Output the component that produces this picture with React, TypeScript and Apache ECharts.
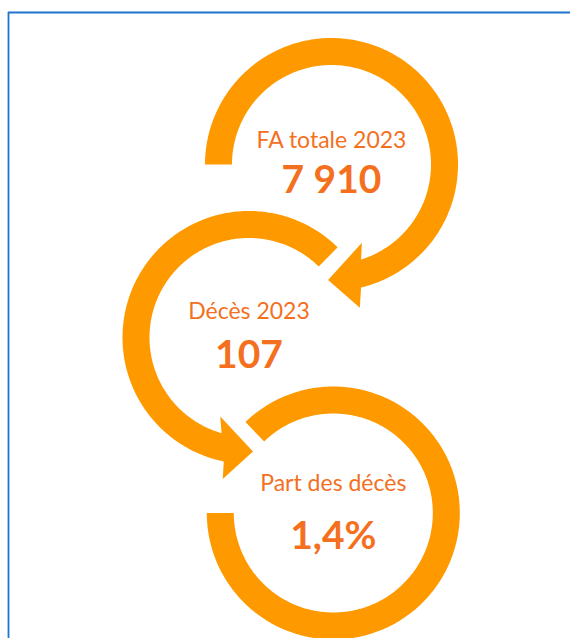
import React, { useEffect, useRef } from "react";
import * as echarts from "echarts";

// Data
const labels = ["FA totale 2023", "Décès 2023", "Part des décès"];
const values = ["7 910", "107", "1,4%"];

// Layout of the three circular arrows (pixels / degrees, screen orientation)
const RING_COLOR = "#FF9900";
const TEXT_COLOR = "#F4701E";
const R_IN = 99.5;
const R_OUT = 126.5;

type Arrow = {
  outerEnd: number;
  innerEnd: number;
  barbOuter: [number, number];
  tip: [number, number];
  barbInner: [number, number];
};
type Ring = {
  cx: number;
  cy: number;
  start: number;
  end: number;
  arrow: Arrow | null;
  labelDy: number;
  valueDy: number;
};

const rings: Ring[] = [
  {
    cx: 331.5, cy: 164.5, start: 180, end: 436.5,
    arrow: { outerEnd: 436.5, innerEnd: 432.7, barbOuter: [146, 438.8], tip: [115.5, 451.7], barbInner: [84, 428.8] },
    labelDy: -26, valueDy: 13.5,
  },
  {
    cx: 249, cy: 337.5, start: 314.5, end: 101.5,
    arrow: { outerEnd: 101.5, innerEnd: 106, barbOuter: [144, 100.5], tip: [114, 88], barbInner: [84, 110] },
    labelDy: -27.5, valueDy: 15,
  },
  {
    cx: 333.3, cy: 513, start: 226, end: 540,
    arrow: null,
    labelDy: -31.5, valueDy: 20.5,
  },
];

function pt(cx: number, cy: number, r: number, deg: number): number[] {
  const a = (deg * Math.PI) / 180;
  return [cx + r * Math.cos(a), cy + r * Math.sin(a)];
}

function arcPoints(cx: number, cy: number, r: number, a0: number, a1: number): number[][] {
  const pts: number[][] = [];
  const n = Math.max(2, Math.ceil(Math.abs(a1 - a0) / 1));
  for (let i = 0; i <= n; i++) {
    pts.push(pt(cx, cy, r, a0 + ((a1 - a0) * i) / n));
  }
  return pts;
}

function ringPolygon(ring: Ring): number[][] {
  const { cx, cy, start, end, arrow } = ring;
  if (!arrow) {
    return [...arcPoints(cx, cy, R_OUT, start, end), ...arcPoints(cx, cy, R_IN, end, start)];
  }
  return [
    ...arcPoints(cx, cy, R_OUT, start, arrow.outerEnd),
    pt(cx, cy, arrow.barbOuter[0], arrow.barbOuter[1]),
    pt(cx, cy, arrow.tip[0], arrow.tip[1]),
    pt(cx, cy, arrow.barbInner[0], arrow.barbInner[1]),
    ...arcPoints(cx, cy, R_IN, arrow.innerEnd, start),
  ];
}

export default function App() {
  const ref = useRef<HTMLDivElement>(null);
  useEffect(() => {
    if (!ref.current) return;
    const chart = echarts.init(ref.current, null, { renderer: "svg" });
    const elements: any[] = [];
    // frame
    elements.push({
      type: "line",
      shape: { x1: 8, y1: 12.5, x2: 570, y2: 12.5 },
      style: { stroke: "#1E74CC", lineWidth: 1.8 },
    });
    elements.push({
      type: "line",
      shape: { x1: 8.5, y1: 12, x2: 8.5, y2: 638 },
      style: { stroke: "#1E74CC", lineWidth: 1.8 },
    });
    rings.forEach((ring, i) => {
      elements.push({
        type: "polygon",
        shape: { points: ringPolygon(ring) },
        style: { fill: RING_COLOR },
      });
      elements.push({
        type: "text",
        x: ring.cx,
        y: ring.cy + ring.labelDy,
        style: {
          text: labels[i],
          fill: TEXT_COLOR,
          font: "23px Lato",
          align: "center",
          verticalAlign: "middle",
        },
      });
      elements.push({
        type: "text",
        x: ring.cx,
        y: ring.cy + ring.valueDy,
        style: {
          text: values[i],
          fill: TEXT_COLOR,
          font: "bold 39px Lato",
          align: "center",
          verticalAlign: "middle",
        },
      });
    });
    chart.setOption({
      animation: false,
      backgroundColor: "#ffffff",
      graphic: { elements },
    });
    return () => chart.dispose();
  }, []);
  return (
    <div
      ref={ref}
      style={{ position: "fixed", left: 0, top: 0, width: 570, height: 638 }}
    />
  );
}
